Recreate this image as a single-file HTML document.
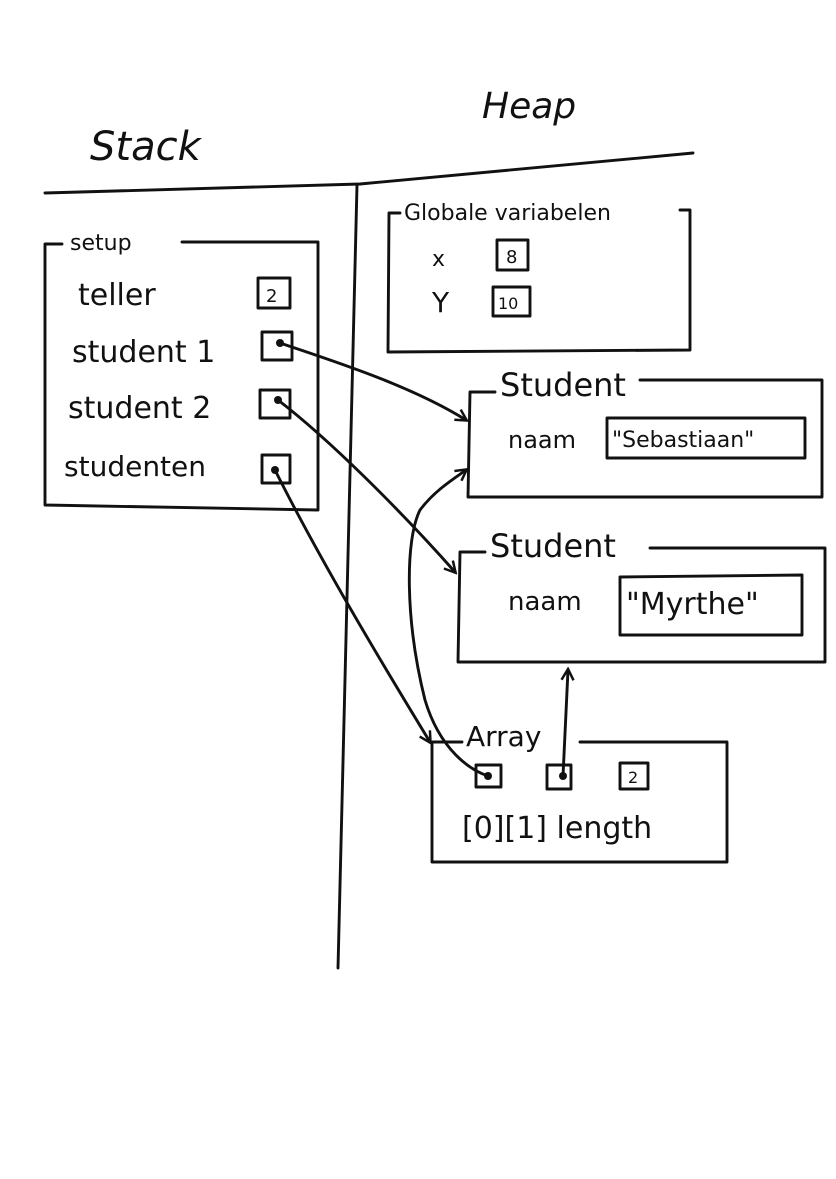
<!DOCTYPE html>
<html><head><meta charset="utf-8"><style>
html,body{margin:0;padding:0;background:#fff;}
svg{display:block;}
text{font-family:"DejaVu Sans","Liberation Sans",sans-serif;fill:#111;}
</style></head><body>
<svg width="836" height="1179" viewBox="0 0 836 1179" xmlns="http://www.w3.org/2000/svg">
<defs>
<marker id="ah" markerWidth="14" markerHeight="14" refX="11" refY="7" orient="auto" markerUnits="userSpaceOnUse">
<path d="M1,1 L12,7 L1,13" fill="none" stroke="#111" stroke-width="2.5"/>
</marker>
</defs>
<g fill="none" stroke="#111" stroke-width="2.9" stroke-linecap="round" stroke-linejoin="round">
<path d="M45,193 L360,184 L693,153"/>
<path d="M357,185 L338,968"/>
<path d="M62,244 L45,244 L45,505 L318,510 L318,242 L182,242"/>
<rect x="258" y="278" width="32" height="30"/>
<rect x="262" y="332" width="30" height="28"/>
<rect x="260" y="390" width="30" height="28"/>
<rect x="262" y="455" width="28" height="28"/>
<path d="M400,213 L389,213 L388,352 L690,350 L690,210 L680,210"/>
<rect x="497" y="240" width="31" height="30"/>
<rect x="493" y="287" width="37" height="29"/>
<path d="M495,392 L470,392 L468,497 L822,497 L822,380 L640,380"/>
<rect x="607" y="418" width="198" height="40"/>
<path d="M485,552 L460,552 L458,662 L825,662 L825,548 L650,548"/>
<path d="M620,577 L802,575 L802,635 L620,635 Z"/>
<path d="M462,742 L432,742 L432,862 L727,862 L727,742 L580,742"/>
<rect x="476" y="765" width="25" height="22"/>
<rect x="547" y="765" width="24" height="24"/>
<rect x="620" y="763" width="28" height="26"/>
<path d="M280,343 C330,360 410,385 466,420" marker-end="url(#ah)"/>
<path d="M278,400 C330,440 400,510 455,572" marker-end="url(#ah)"/>
<path d="M275,470 C320,560 380,660 430,742" marker-end="url(#ah)"/>
<path d="M488,776 C470,770 440,750 425,700 C405,620 405,540 420,510 C435,490 455,478 466,470" marker-end="url(#ah)"/>
<path d="M563,776 L568,670" marker-end="url(#ah)"/>
</g>
<g fill="#111">
<circle cx="280" cy="343" r="4"/><circle cx="278" cy="400" r="4"/><circle cx="275" cy="470" r="4"/>
<circle cx="488" cy="776" r="4"/><circle cx="563" cy="776" r="4"/>
</g>
<text x="90" y="160" font-size="40" font-style="italic">Stack</text>
<text x="482" y="118" font-size="36" font-style="italic">Heap</text>
<text x="70" y="250" font-size="22">setup</text>
<text x="78" y="305" font-size="30">teller</text>
<text x="72" y="362" font-size="30">student 1</text>
<text x="68" y="418" font-size="30">student 2</text>
<text x="64" y="476" font-size="28">studenten</text>
<text x="266" y="302" font-size="18">2</text>
<text x="404" y="220" font-size="22">Globale variabelen</text>
<text x="432" y="266" font-size="22">x</text>
<text x="432" y="312" font-size="28">Y</text>
<text x="506" y="263" font-size="18">8</text>
<text x="498" y="309" font-size="16">10</text>
<text x="500" y="396" font-size="32">Student</text>
<text x="508" y="448" font-size="24">naam</text>
<text x="612" y="447" font-size="22">"Sebastiaan"</text>
<text x="490" y="557" font-size="32">Student</text>
<text x="508" y="610" font-size="26">naam</text>
<text x="626" y="614" font-size="30">"Myrthe"</text>
<text x="466" y="746" font-size="28">Array</text>
<text x="628" y="783" font-size="16">2</text>
<text x="462" y="838" font-size="30">[0][1] length</text>
</svg>
</body></html>
